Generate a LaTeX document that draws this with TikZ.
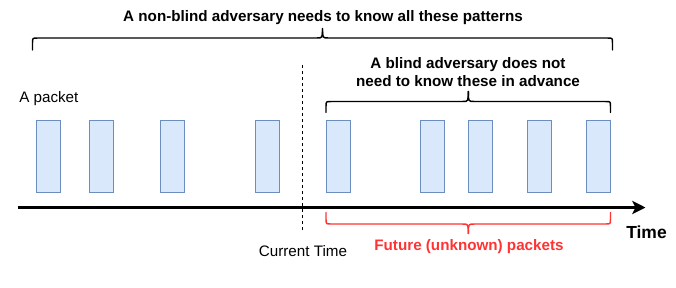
\documentclass[tikz,border=0pt]{standalone}
\usepackage{fontspec}
\setmainfont{Liberation Sans}
\usetikzlibrary{arrows.meta,calc}
\definecolor{pktfill}{HTML}{DAE8FC}
\definecolor{pktline}{HTML}{6C8EBF}
\definecolor{futred}{HTML}{FF3333}
\newcommand{\mybrace}[7]{% x1 x2 xm yb ym yt d
  \draw[bracestyle] (#1,#4) -- (#1,#5+#7*5) .. controls (#1,#5) .. (#1+5,#5) -- (#3-6,#5) .. controls (#3,#5) .. (#3,#6);
  \draw[bracestyle] (#2,#4) -- (#2,#5+#7*5) .. controls (#2,#5) .. (#2-5,#5) -- (#3+6,#5) .. controls (#3,#5) .. (#3,#6);
}
\begin{document}
\begin{tikzpicture}[x=0.75pt,y=-0.75pt,
  packet/.style={draw=pktline,fill=pktfill,line width=0.75pt,minimum width=18pt,minimum height=54pt,inner sep=0pt},
  txt/.style={font=\fontsize{11.4}{13.5}\selectfont,inner sep=0pt,anchor=base},
  btxt/.style={txt,font=\fontsize{11.4}{13.5}\selectfont\bfseries},
  bracestyle/.style={line width=1.1pt,line cap=round,line join=round},
  axis/.style={line width=2.25pt,-{Stealth[length=10pt,width=10pt,inset=2.5pt]}},
  nowline/.style={line width=0.75pt,dash pattern=on 2.25pt off 2.25pt}]
\useasboundingbox (0,0) rectangle (676,287);
% packets
\node[packet] (p1) at (48,156) {};
\node[packet] (p2) at (101,156) {};
\node[packet] (p3) at (172,156) {};
\node[packet] (p4) at (267,156) {};
\node[packet] (p5) at (338,156) {};
\node[packet] (p6) at (432.5,156) {};
\node[packet] (p7) at (480,156) {};
\node[packet] (p8) at (539,156) {};
\node[packet] (p9) at (598.5,156) {};
% current time dashed line
\coordinate (nowT) at (302.5,65);
\coordinate (nowB) at (302.5,232);
\draw[nowline] (nowT) -- (nowB);
% axis
\coordinate (axS) at (17.5,207.5);
\coordinate (axE) at (645.5,207.5);
\draw[axis] (axS) -- (axE);
% braces
\mybrace{32.5}{612.5}{322.5}{50}{38}{28.5}{1}
\mybrace{326}{610.5}{468.3}{112.5}{101.5}{91.5}{1}
\begin{scope}[bracestyle/.append style={draw=futred}]
\mybrace{326}{610.5}{468.3}{212.5}{224}{233.5}{-1}
\end{scope}
% texts
\node[btxt] (title) at (323,21.5) {A non-blind adversary needs to know all these patterns};
\node[btxt] (blind1) at (468,68.3) {A blind adversary does not};
\node[btxt] (blind2) at (468,86.7) {need to know these in advance};
\node[txt,anchor=base west] (apkt) at (19,102.3) {A packet};
\node[txt] (ctime) at (303,256) {Current Time};
\node[btxt,text=futred] (future) at (469,250) {Future (unknown) packets};
\node[txt,font=\fontsize{13.1}{15}\selectfont\bfseries,anchor=base west] (time) at (626,238.3) {Time};
\end{tikzpicture}
\end{document}
